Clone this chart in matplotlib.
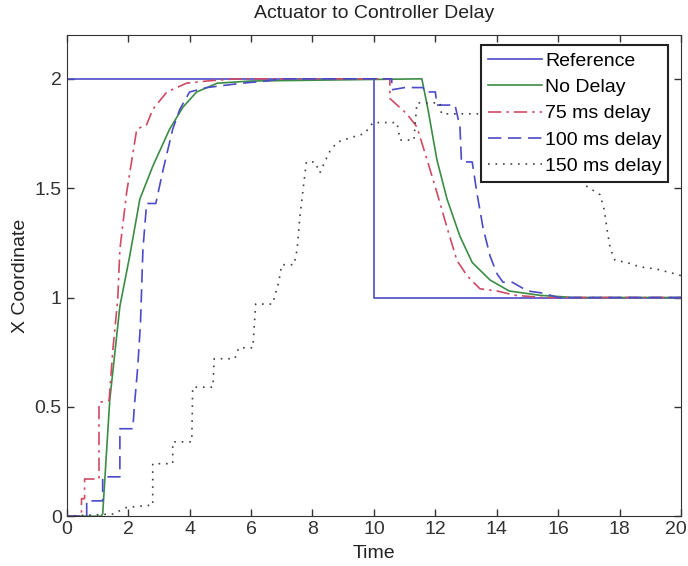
import numpy as np
import matplotlib
matplotlib.use('Agg')
import matplotlib.pyplot as plt
from matplotlib.transforms import ScaledTranslation

plt.rcParams['font.family'] = ['Liberation Sans', 'DejaVu Sans']

# Reference step
t_ref = [0, 10, 10, 20]
x_ref = [2, 2, 1, 1]

# No delay
t_nd = [0, 1.12, 1.17, 1.40, 1.73, 2.05, 2.38, 2.8, 3.35, 3.78, 4.23, 4.9, 6.0,
        11.56, 11.76, 12.05, 12.38, 12.8, 13.2, 13.78, 14.4, 15.4, 16.5, 20]
x_nd = [0, 0, 0.01, 0.53, 0.96, 1.19, 1.45, 1.60, 1.77, 1.87, 1.94, 1.98, 1.99,
        2.0, 1.86, 1.63, 1.45, 1.28, 1.16, 1.08, 1.03, 1.01, 1.0, 1.0]

# 75 ms delay
t_75 = [0, 0.48, 0.48, 0.58, 0.58, 1.05, 1.05, 1.38, 1.5, 1.66, 1.73, 1.95, 2.12,
        2.28, 2.6, 2.8, 3.26, 3.9, 4.56, 5.5, 10.52, 10.52, 11.07, 11.4, 11.73,
        12.05, 12.38, 12.7, 13.03, 13.45, 14.0, 14.6, 15.5, 20]
x_75 = [0, 0, 0.08, 0.08, 0.17, 0.17, 0.52, 0.53, 0.76, 0.99, 1.22, 1.48, 1.63,
        1.77, 1.79, 1.86, 1.94, 1.98, 1.99, 2.0, 2.0, 1.91, 1.84, 1.78, 1.63,
        1.48, 1.32, 1.17, 1.10, 1.04, 1.03, 1.01, 1.0, 1.0]

# 100 ms delay
t_100 = [0, 0.65, 0.65, 1.17, 1.17, 1.73, 1.73, 2.15, 2.2, 2.31, 2.4, 2.48, 2.6,
         2.9, 3.13, 3.45, 3.68, 4.0, 4.56, 5.7, 6.5, 7.0, 10.58, 10.58, 11.0,
         11.6, 11.65, 12.0, 12.05, 12.64, 12.8, 12.85, 13.2, 13.35, 13.55, 13.78,
         14.0, 14.2, 14.5, 15.0, 15.5, 16.0, 20]
x_100 = [0, 0, 0.07, 0.07, 0.18, 0.18, 0.40, 0.40, 0.50, 0.68, 0.88, 1.22, 1.43,
         1.43, 1.58, 1.77, 1.86, 1.94, 1.96, 1.98, 1.99, 2.0, 2.0, 1.95, 1.96,
         1.96, 1.94, 1.94, 1.88, 1.88, 1.78, 1.62, 1.62, 1.48, 1.32, 1.19,
         1.11, 1.07, 1.07, 1.03, 1.02, 1.0, 1.0]

# 150 ms delay
t_150 = [0, 1.5, 1.95, 2.7, 2.8, 2.8, 3.45, 3.45, 4.07, 4.1, 4.76, 4.8, 5.47, 5.6,
         6.06, 6.15, 6.7, 6.9, 7.0, 7.4, 7.5, 7.59, 7.69, 7.8, 8.08, 8.24, 8.4,
         8.57, 8.8, 9.22, 9.7, 9.97, 10.75, 10.85, 11.3, 11.4, 12.15, 12.2, 13.5,
         14.5, 15.5, 16.3, 16.8, 17.36, 17.5, 17.6, 17.7, 17.85, 18.24, 18.66,
         19.2, 19.75, 20]
x_150 = [0, 0.01, 0.04, 0.05, 0.05, 0.24, 0.24, 0.34, 0.34, 0.59, 0.59, 0.72, 0.72,
         0.77, 0.77, 0.97, 0.97, 1.07, 1.15, 1.15, 1.22, 1.37, 1.49, 1.62, 1.62,
         1.57, 1.62, 1.67, 1.71, 1.73, 1.75, 1.80, 1.80, 1.72, 1.72, 1.89, 1.89,
         1.84, 1.84, 1.84, 1.78, 1.62, 1.52, 1.47, 1.40, 1.30, 1.22, 1.17, 1.16,
         1.14, 1.13, 1.11, 1.10]

fig = plt.figure(figsize=(6.88, 5.66), dpi=100)
ax = fig.add_axes([0.097, 0.088, 0.893, 0.85])

lw = 1.2
ax.plot(t_ref, x_ref, color='#4b4bc8', lw=lw, label='Reference')
ax.plot(t_nd, x_nd, color='#3c8c46', lw=lw, label='No Delay')
ax.plot(t_75, x_75, color='#d04a64', lw=lw, dashes=(8, 3, 1.5, 3), label='75 ms delay')
ax.plot(t_100, x_100, color='#4b4bc8', lw=lw, dashes=(8, 4), label='100 ms delay')
ax.plot(t_150, x_150, color='#404040', lw=lw, dashes=(1, 3.5), label='150 ms delay')

ax.set_xlim(0, 20)
ax.set_ylim(0, 2.2)
ax.set_xticks(np.arange(0, 21, 2))
ax.set_yticks([0, 0.5, 1, 1.5, 2])
ax.set_yticklabels(['0', '0.5', '1', '1.5', '2'])
ax.tick_params(direction='in', top=True, right=True, length=5, labelsize=14,
               colors='#333333', width=1)
for s in ax.spines.values():
    s.set_color('#333333')

# nudge the last x label so "20" stays inside the figure
last = ax.get_xticklabels()[-1]
last.set_transform(last.get_transform() + ScaledTranslation(-4 / 72, 0, fig.dpi_scale_trans))

ax.set_title('Actuator to Controller Delay', fontsize=14, color='#222222', pad=12)
ax.set_xlabel('Time', fontsize=14, color='#222222', labelpad=5)
ax.set_ylabel('X Coordinate', fontsize=14, color='#222222', labelpad=4)

leg = ax.legend(loc='upper right', bbox_to_anchor=(0.979, 0.979), borderaxespad=0,
                fontsize=14, handlelength=2.8, handletextpad=0.15, labelspacing=0.45,
                fancybox=False, framealpha=1, edgecolor='#222222',
                borderpad=0.35)
leg.get_frame().set_linewidth(1.5)

fig.savefig('out.png', dpi=100)
